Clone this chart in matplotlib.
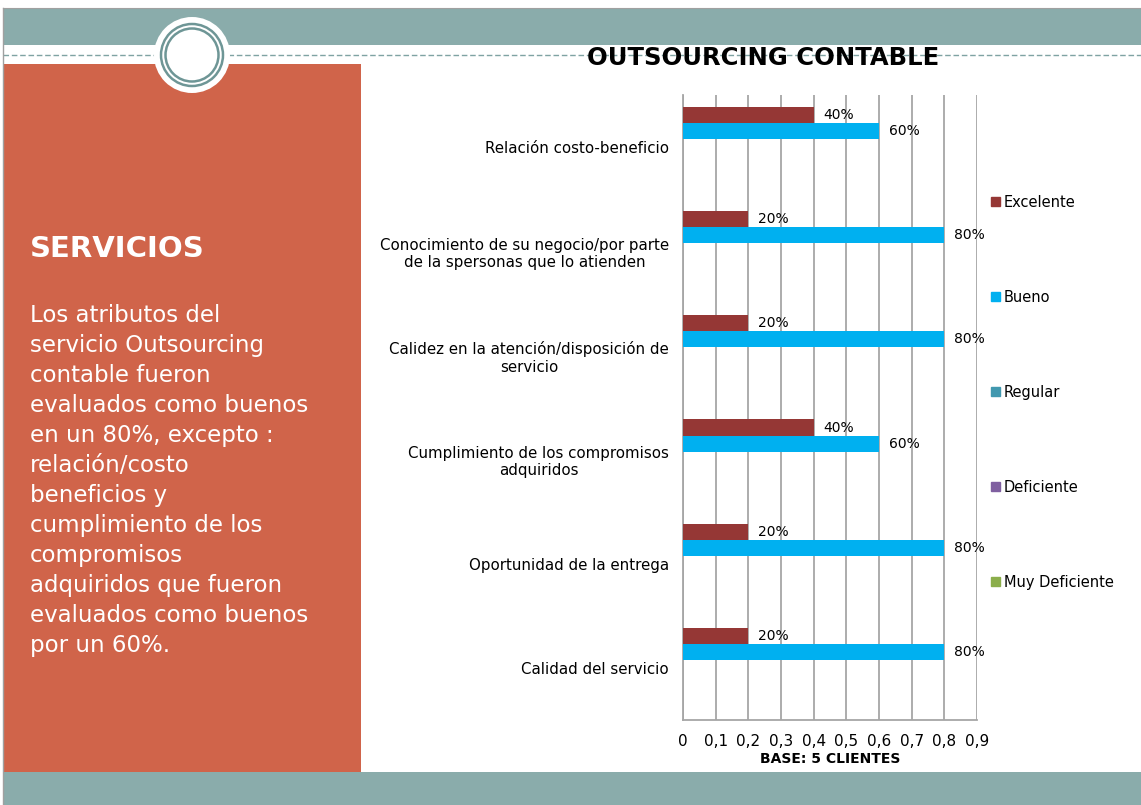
import numpy as np
import matplotlib.pyplot as plt
from matplotlib.patches import Rectangle, Circle, Patch
from matplotlib.ticker import FuncFormatter

## DATA

categorias = ['Relación costo-beneficio',
              'Conocimiento de su negocio/por parte\nde la spersonas que lo atienden',
              'Calidez en la atención/disposición de\nservicio',
              'Cumplimiento de los compromisos\nadquiridos',
              'Oportunidad de la entrega',
              'Calidad del servicio']
series = ['Excelente', 'Bueno', 'Regular', 'Deficiente', 'Muy Deficiente']
excelente = [0.4, 0.2, 0.2, 0.4, 0.2, 0.2]
bueno = [0.6, 0.8, 0.8, 0.6, 0.8, 0.8]
regular = [0, 0, 0, 0, 0, 0]
deficiente = [0, 0, 0, 0, 0, 0]
muy_deficiente = [0, 0, 0, 0, 0, 0]
colores = ['#953735', '#00B0F0', '#4198AF', '#7F5FA0', '#8BAE4B']
xticks = [0, 0.1, 0.2, 0.3, 0.4, 0.5, 0.6, 0.7, 0.8, 0.9]

texto_panel = ['Los atributos del',
               'servicio Outsourcing',
               'contable fueron',
               'evaluados como buenos',
               'en un 80%, excepto :',
               'relación/costo',
               'beneficios y',
               'cumplimiento de los',
               'compromisos',
               'adquiridos que fueron',
               'evaluados como buenos',
               'por un 60%.']

W, H = 1141, 805
TEAL = '#8AACAB'
NARANJA = '#D0644A'

fig = plt.figure(figsize=(W / 100, H / 100), dpi=100)

## SLIDE BACKGROUND (pixel coordinates)

bg = fig.add_axes([0, 0, 1, 1])
bg.set_xlim(0, W)
bg.set_ylim(H, 0)
bg.axis('off')
bg.add_patch(Rectangle((3, 8), W, 37, color=TEAL, lw=0))
bg.add_patch(Rectangle((3, 772), W, 40, color=TEAL, lw=0))
bg.add_patch(Rectangle((3, 64), 358, 708, color=NARANJA, lw=0))
bg.plot([3, W], [55, 55], color='#7FA3A3', lw=1, ls=(0, (4, 2)))
bg.plot([3, 3], [8, 805], color='#A0A0A0', lw=1)
bg.plot([3, W], [8, 8], color='#A0A0A0', lw=0.8)
bg.add_patch(Circle((192, 55), 38, color='white', lw=0, zorder=3))
bg.add_patch(Circle((192, 55), 31, fill=False, ec='#6E9696', lw=1.8, zorder=4))
bg.add_patch(Circle((192, 55), 26.5, fill=False, ec='#6E9696', lw=1.8, zorder=4))

bg.text(30, 249, 'SERVICIOS', color='white', fontsize=21, fontweight='bold',
        va='center', ha='left')
for i, linea in enumerate(texto_panel):
    bg.text(30, 315 + i * 30, linea, color='white', fontsize=16.5,
            va='center', ha='left')

bg.text(763, 58, 'OUTSOURCING CONTABLE', fontsize=17.5, fontweight='bold',
        ha='center', va='center', color='black')

## CHART

ax = fig.add_axes([683 / W, 1 - 720 / H, (977 - 683) / W, (720 - 95) / H])
y = np.arange(len(categorias))
h = 0.154
valores = [excelente, bueno, regular, deficiente, muy_deficiente]
for k, (nombre, vals, c) in enumerate(zip(series, valores, colores)):
    pos = y + (k - 2) * h
    ax.barh(pos, vals, height=h, color=c, label=nombre, zorder=3)
    for p, v in zip(pos, vals):
        if v > 0:
            ax.text(v + 0.03, p, '%d%%' % round(v * 100), va='center', ha='left',
                    fontsize=10, color='black', zorder=4, clip_on=False)

ax.set_xlim(0, 0.9)
ax.set_ylim(len(categorias) - 0.5, -0.5)
ax.set_xticks(xticks)
ax.xaxis.set_major_formatter(FuncFormatter(lambda v, p: ('%g' % v).replace('.', ',')))
ax.set_yticks(y)
ax.set_yticklabels(categorias, fontsize=10.8, ha='right', multialignment='center')
ax.tick_params(axis='y', length=0, pad=10)
ax.tick_params(axis='x', length=0, labelsize=11, pad=10)
ax.grid(axis='x', color='#A6A6A6', lw=1.3, zorder=0)
for s in ['top', 'right']:
    ax.spines[s].set_visible(False)
for s in ['left', 'bottom']:
    ax.spines[s].set_color('#A6A6A6')
    ax.spines[s].set_linewidth(1.3)
ax.set_xlabel('BASE: 5 CLIENTES', fontsize=10, fontweight='bold', labelpad=2)

handles = [Patch(color=c, label=n) for n, c in zip(series, colores)]
fig.legend(handles=handles, loc='upper left', bbox_to_anchor=(985 / W, 1 - 189 / H),
           frameon=False, fontsize=10.5, handlelength=0.6, handleheight=0.6,
           handletextpad=0.3, labelspacing=5.48, borderaxespad=0)

fig.savefig('out.png', dpi=100)
